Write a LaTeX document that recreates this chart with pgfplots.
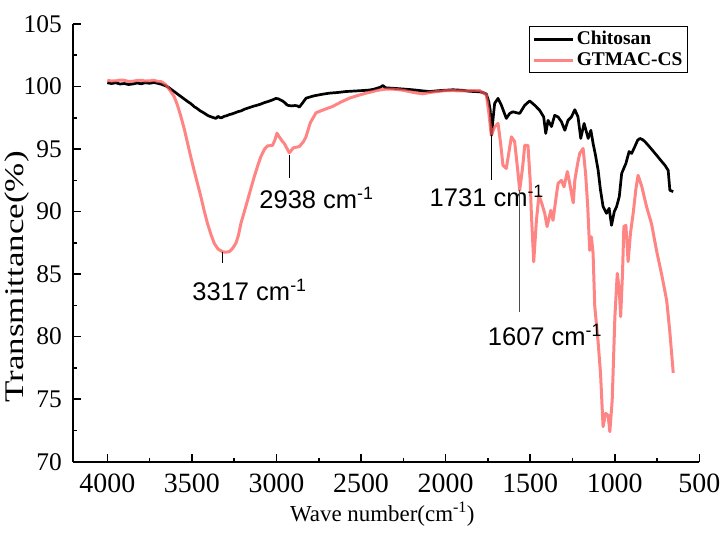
\documentclass[border=0pt]{standalone}
\usepackage{fontspec}
\setmainfont{Liberation Serif}
\newfontfamily\arialfont{Liberation Sans}
\usepackage{graphicx}
\usepackage{pgfplots}
\pgfplotsset{compat=1.18}
\definecolor{pinkc}{RGB}{255,85,85}

\begin{document}
\begin{tikzpicture}
\useasboundingbox (-73bp,-74.3bp) rectangle (651bp,461.7bp);
\begin{axis}[
  at={(0,0)}, anchor=south west,
  scale only axis, width=626.3bp, height=437.7bp,
  x dir=reverse, xmin=500, xmax=4203, ymin=70, ymax=105,
  xtick={500,1000,...,4000}, ytick={70,75,...,105},
  minor x tick num=1, minor y tick num=1,
  axis x line*=bottom, axis y line*=left,
  axis line style={-, line width=1.6bp},
  tick style={line width=1.6bp, black},
  tick align=inside,
  major tick length=8bp, minor tick length=4bp,
  /pgf/number format/assume math mode=true,
  /pgf/number format/1000 sep={},
  xticklabel style={font=\fontsize{28}{28}\selectfont, inner sep=0pt, yshift=-12bp},
  yticklabel style={font=\fontsize{25.5}{25.5}\selectfont, inner sep=0pt, xshift=-11bp},
  xlabel={Wave number(cm\textsuperscript{-1})},
  xlabel style={font=\fontsize{23}{23}\selectfont, at={(axis description cs:0.494,0)}, anchor=base, yshift=-60bp, inner sep=0pt},
  ylabel={\scalebox{1.3}[1]{Transmittance(\%)}},
  ylabel style={font=\fontsize{27}{27}\selectfont, at={(axis description cs:-0.0894,0.422)}, anchor=center, inner sep=0pt},
  legend style={at={(axis description cs:0.982,0.995)}, anchor=north east, draw=black, line width=1bp,
    inner xsep=3bp, inner ysep=2bp, font=\bfseries\fontsize{19.5}{19.5}\selectfont, row sep=0pt,
    nodes={inner sep=2bp, text height=13.5bp, text depth=3.5bp}, cells={anchor=west}},
  legend image code/.code={\draw[#1] (0bp,0bp) -- (39bp,0bp);},
]
\addplot[black, line width=2.7bp, line join=round] coordinates {
(4000,100.30) (3975,100.24) (3950,100.30) (3925,100.20) (3900,100.24) (3875,100.16) (3850,100.20) (3825,100.28)
(3800,100.22) (3775,100.30) (3750,100.26) (3725,100.32) (3700,100.25) (3680,100.18) (3660,100.08) (3640,99.95)
(3625,99.80) (3600,99.55) (3580,99.35) (3565,99.20) (3545,99.00) (3525,98.80) (3505,98.62) (3487,98.40)
(3470,98.25) (3450,98.05) (3430,97.90) (3408,97.70) (3395,97.62) (3380,97.55) (3358,97.45) (3345,97.62)
(3335,97.52) (3325,97.50) (3309,97.62) (3295,97.66) (3280,97.75) (3265,97.80) (3250,97.87) (3230,97.98)
(3210,98.05) (3190,98.18) (3171,98.27) (3150,98.36) (3130,98.45) (3110,98.52) (3092,98.60) (3070,98.72)
(3050,98.80) (3025,98.92) (3003,99.05) (2990,99.02) (2980,98.95) (2965,98.85) (2954,98.75) (2935,98.50)
(2910,98.45) (2890,98.48) (2875,98.45) (2865,98.35) (2845,98.70) (2825,99.07) (2780,99.25) (2730,99.38)
(2687,99.47) (2640,99.52) (2590,99.60) (2540,99.64) (2490,99.68) (2450,99.72) (2420,99.80) (2385,99.95)
(2371,100.08) (2355,99.90) (2300,99.85) (2250,99.80) (2194,99.74) (2140,99.66) (2095,99.60) (2030,99.68)
(1957,99.74) (1900,99.70) (1858,99.62) (1800,99.58) (1779,99.52) (1759,99.40) (1745,98.80) (1736,98.10)
(1728,96.10) (1718,97.60) (1710,98.65) (1690,99.05) (1670,98.50) (1641,97.45) (1621,97.85) (1602,97.98)
(1580,97.90) (1562,97.85) (1532,98.50) (1503,98.85) (1473,98.50) (1444,98.10) (1420,97.57) (1408,96.25)
(1394,97.30) (1374,96.80) (1355,97.70) (1335,97.57) (1315,97.18) (1295,96.50) (1276,97.30) (1256,97.57)
(1236,98.15) (1217,97.57) (1201,95.85) (1181,97.05) (1157,95.85) (1141,96.50) (1128,95.45) (1115,94.60)
(1098,93.30) (1085,91.80) (1069,90.40) (1049,89.86) (1033,90.26) (1019,88.90) (1003,89.98) (989,90.40)
(973,91.20) (959,93.05) (945,93.50) (934,93.85) (915,94.80) (900,94.65) (881,95.20) (865,95.70)
(851,95.85) (835,95.75) (822,95.60) (802,95.30) (780,94.95) (752,94.50) (725,94.05) (703,93.70)
(684,93.30) (674,91.70) (654,91.60)
};
\addlegendentry{Chitosan}
\addplot[pinkc, opacity=0.72, line width=3bp, line join=round] coordinates {
(4000,100.50) (3975,100.44) (3950,100.45) (3925,100.52) (3900,100.50) (3875,100.40) (3850,100.42) (3825,100.48)
(3800,100.50) (3775,100.44) (3750,100.45) (3725,100.50) (3700,100.40) (3684,100.40) (3670,100.30) (3654,100.14)
(3630,99.70) (3605,99.20) (3585,98.50) (3565,97.60) (3545,96.60) (3526,95.50) (3507,94.40) (3487,93.30)
(3467,92.25) (3447,91.20) (3428,90.10) (3408,89.06) (3388,88.20) (3368,87.46) (3345,87.00) (3319,86.79)
(3300,86.75) (3279,86.80) (3260,87.05) (3240,87.46) (3225,88.10) (3210,89.06) (3190,90.00) (3171,90.90)
(3150,91.90) (3131,92.80) (3110,93.70) (3092,94.40) (3070,95.00) (3053,95.25) (3023,95.30) (3010,95.70)
(2997,96.27) (2985,96.00) (2964,95.60) (2954,95.45) (2924,94.70) (2900,95.10) (2865,95.20) (2840,95.60)
(2825,96.00) (2800,97.10) (2766,97.90) (2720,98.15) (2669,98.40) (2620,98.75) (2569,99.07) (2520,99.28)
(2470,99.47) (2400,99.70) (2351,99.80) (2300,99.78) (2250,99.70) (2180,99.50) (2135,99.42) (2080,99.55)
(1996,99.68) (1900,99.65) (1799,99.68) (1759,99.34) (1744,97.85) (1730,96.10) (1710,96.78) (1690,97.05)
(1675,95.50) (1661,93.70) (1641,93.45) (1625,94.80) (1611,95.98) (1592,95.60) (1575,93.50) (1562,91.70)
(1545,93.50) (1532,95.30) (1513,95.30) (1500,92.50) (1493,89.86) (1479,85.99) (1463,89.30) (1448,91.30)
(1430,90.60) (1414,89.86) (1400,88.80) (1378,90.10) (1365,89.30) (1345,91.30) (1335,92.25) (1315,92.50)
(1300,91.98) (1280,93.20) (1266,92.25) (1250,91.00) (1245,90.70) (1236,92.50) (1220,93.80) (1207,94.65)
(1187,95.05) (1172,93.00) (1160,90.50) (1148,86.90) (1138,87.98) (1128,86.66) (1118,82.40) (1099,79.70)
(1084,77.07) (1069,72.80) (1054,73.87) (1039,73.70) (1029,72.40) (1015,74.90) (999,81.60) (985,85.06)
(973,83.70) (965,81.60) (954,85.06) (946,88.80) (934,88.90) (921,86.00) (907,88.26) (891,89.86)
(875,91.80) (862,92.90) (840,92.00) (812,90.40) (782,89.00) (753,86.90) (720,84.80) (693,82.90)
(675,80.50) (654,77.10)
};
\addlegendentry{GTMAC-CS}
\draw[line width=1.2bp] (axis cs:3320,86.8) -- (axis cs:3320,85.9);
\node[anchor=base west, font=\arialfont\fontsize{25.6}{25.6}\selectfont, inner sep=0pt] at (axis cs:3498,82.9) {3317 cm\textsuperscript{-1}};
\draw[line width=1.2bp] (axis cs:2924,94.5) -- (axis cs:2924,92.7);
\node[anchor=base west, font=\arialfont\fontsize{25.6}{25.6}\selectfont, inner sep=0pt] at (axis cs:3102,90.26) {2938 cm\textsuperscript{-1}};
\draw[line width=1.2bp] (axis cs:1728,96.1) -- (axis cs:1728,92.5);
\node[anchor=base west, font=\arialfont\fontsize{25.6}{25.6}\selectfont, inner sep=0pt] at (axis cs:2095,90.4) {1731 cm\textsuperscript{-1}};
\draw[line width=1.2bp, black!70] (axis cs:1562,91.7) -- (axis cs:1562,82.0);
\node[anchor=base west, font=\arialfont\fontsize{25.6}{25.6}\selectfont, inner sep=0pt] at (axis cs:1751,79.33) {1607 cm\textsuperscript{-1}};
\end{axis}
\end{tikzpicture}
\end{document}
